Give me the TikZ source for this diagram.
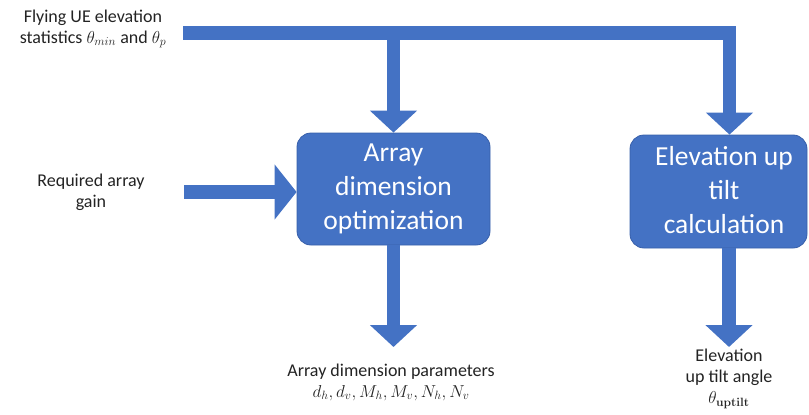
\documentclass[tikz,border=0pt]{standalone}
\usepackage[no-math]{fontspec}
\setmainfont{Carlito}
\usetikzlibrary{arrows.meta}
\definecolor{boxblue}{RGB}{68,114,196}
\definecolor{boxedge}{RGB}{55,95,170}
\definecolor{txt}{RGB}{35,35,35}
\newcommand{\mth}[1]{{\fontsize{18}{20.5}\selectfont$#1$}}
\begin{document}
\begin{tikzpicture}[x=1pt,y=-1pt,
  flow/.style={draw=boxblue, line width=13.5pt, line join=miter,
    -{Triangle[width=46pt,length=22pt]}},
  proc/.style={draw=boxedge, line width=0.8pt, fill=boxblue, rounded corners=14pt,
    inner sep=0pt},
  proctext/.style={text=white, font=\fontsize{27.5}{34}\selectfont, align=center, inner sep=0pt},
  lbl/.style={text=txt, font=\fontsize{18}{21}\selectfont, align=center, inner sep=0pt}]
\useasboundingbox (0,0) rectangle (809,415);

% boxes
\node[proc, minimum width=193pt, minimum height=112pt] (opt) at (393.5,189) {};
\node[proctext] (opttext) at (393.5,189) {Array\\dimension\\optimization};
\node[proc, minimum width=177pt, minimum height=113pt] (tilt) at (718.5,191.5) {};
\node[proctext] (tilttext) at (724,190.5) {Elevation up\\tilt\\calculation};

% labels
\node[lbl] (fly) at (93,29) {Flying UE elevation\\statistics \mth{\theta_{min}} and \mth{\theta_p}};
\node[lbl] (gain) at (91,192) {Required array\\gain};
\node[lbl] (params) at (391,382) {Array dimension parameters\\\mth{d_h, d_v, M_h, M_v, N_h, N_v}};
\node[lbl] (angle) at (729,379) {Elevation\\up tilt angle\\\mth{\theta_{\mathbf{uptilt}}}};

% connectors
\coordinate (src) at (183,33);
\coordinate (j1) at (393.5,33);
\coordinate (gainsrc) at (184,192);
\coordinate (out1) at (393.5,347);
\coordinate (out2) at (729,347);

\draw[flow] (src) -| ([xshift=11pt]tilt.north);
\draw[flow] (j1) -- (opt.north);
\draw[flow, -{Triangle[width=54pt,length=22pt]}] (gainsrc) -- (opt.west |- gainsrc);
\draw[flow] (opt.south) -- (out1);
\draw[flow] ([xshift=10.5pt]tilt.south) -- (out2);
\end{tikzpicture}
\end{document}
